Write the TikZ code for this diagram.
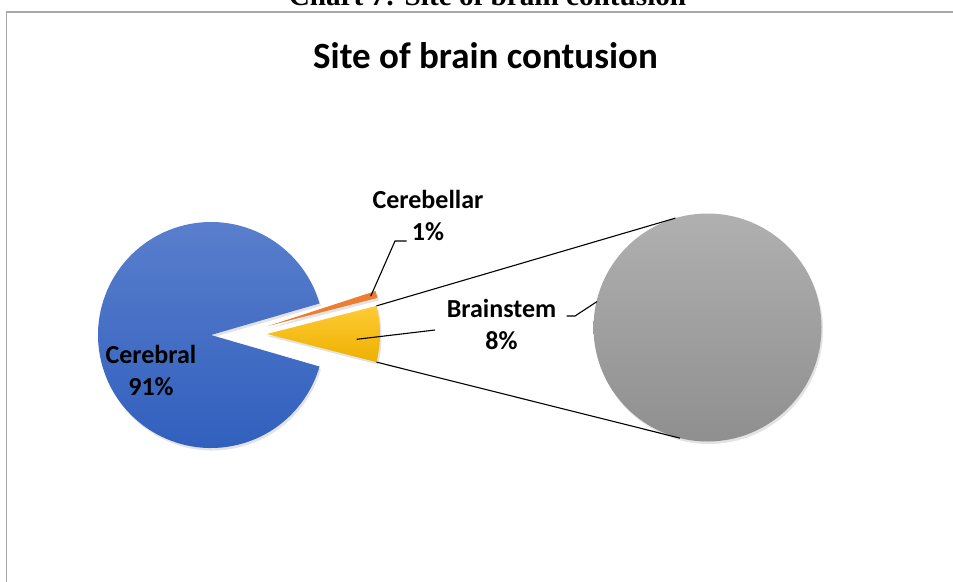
\documentclass[tikz,border=0pt]{standalone}
\usepackage{fontspec}
\setmainfont{Carlito}
\newfontfamily\captionfont{Liberation Serif}
\usetikzlibrary{shadows,calc}

\definecolor{cerebralTop}{HTML}{5B80CD}
\definecolor{cerebralBot}{HTML}{2F5EBD}
\definecolor{stemTop}{HTML}{FFCA35}
\definecolor{stemBot}{HTML}{EDB100}
\definecolor{bellarCol}{HTML}{ED7D31}
\definecolor{otherTop}{HTML}{B0B0B0}
\definecolor{otherBot}{HTML}{8F8F8F}
\definecolor{frameCol}{HTML}{A6A6A6}

\begin{document}
\begin{tikzpicture}[x=1pt, y=1pt,
		slice/.style={draw=none, drop shadow={shadow xshift=1.5pt, shadow yshift=-2.5pt, opacity=0.22}},
		lbl/.style={font=\bfseries\fontsize{26}{32}\selectfont, align=center, inner sep=0pt},
		leader/.style={draw=black, line width=1.1pt}]

					% page and frame
					\useasboundingbox (0,0) rectangle (953,-581);
					\draw [frameCol, line width=1.6pt] (6.5,-590) -- (6.5,-12) -- (960,-12);
					\node [font=\captionfont\bfseries\fontsize{29.2}{29.2}\selectfont, anchor=base] (chartCap) at (487.5,-5) {Chart 7: Site of brain contusion};
					\node [font=\bfseries\fontsize{37}{37}\selectfont, anchor=base] (chartTitle) at (485.5,-68) {Site of brain contusion};

					% pie centres
					\coordinate (cerebralC) at (211,-335);
					\coordinate (stemC) at (267,-334);
					\coordinate (bellarC) at (268,-326);
					\coordinate (otherC) at (707.5,-327.5);

					% slices
					\shade [slice, top color=cerebralTop, bottom color=cerebralBot] (cerebralC) -- ++(16.2:113) arc [start angle=16.2, end angle=343.8, radius=113] -- cycle;
					\shade [slice, top color=stemTop, bottom color=stemBot] (stemC) -- ++(-14.4:113) arc [start angle=-14.4, end angle=14.4, radius=113] -- cycle;
					\fill [slice, bellarCol] (bellarC) -- ++(14.4:113) arc [start angle=14.4, end angle=18, radius=113] -- cycle;
					\shade [slice, top color=otherTop, bottom color=otherBot] (otherC) circle [radius=114];

					% series lines
					\coordinate (stemUp) at ($(stemC)+(14.4:113)$);
					\coordinate (stemDown) at ($(stemC)+(-14.4:113)$);
					\coordinate (otherUp) at ($(otherC)+(106.4:114)$);
					\coordinate (otherDown) at ($(otherC)+(-104:114)$);
					\draw [leader] (stemUp) -- (otherUp);
					\draw [leader] (stemDown) -- (otherDown);

					% labels
					\node [lbl, anchor=base] (cerebralLbl) at (151,-395) {Cerebral\\91\%};
					\node [lbl, anchor=base] (bellarLbl) at (428,-240) {Cerebellar\\1\%};
					\node [lbl, anchor=base] (stemLbl) at (501.5,-349.3) {Brainstem\\8\%};

					% leaders
					\coordinate (bellarTip) at ($(bellarC)+(16.2:107)$);
					\coordinate (stemMid) at (356.7,-339.3);
					\coordinate (otherEdge) at ($(otherC)+(166.8:113.5)$);
					\draw [leader] (bellarTip) -- (395,-241) -- (406.7,-241);
					\draw [leader] (stemMid) -- (435,-330);
					\draw [leader] (566.7,-316) -- (575,-316) -- (otherEdge);

				\end{tikzpicture}
\end{document}
